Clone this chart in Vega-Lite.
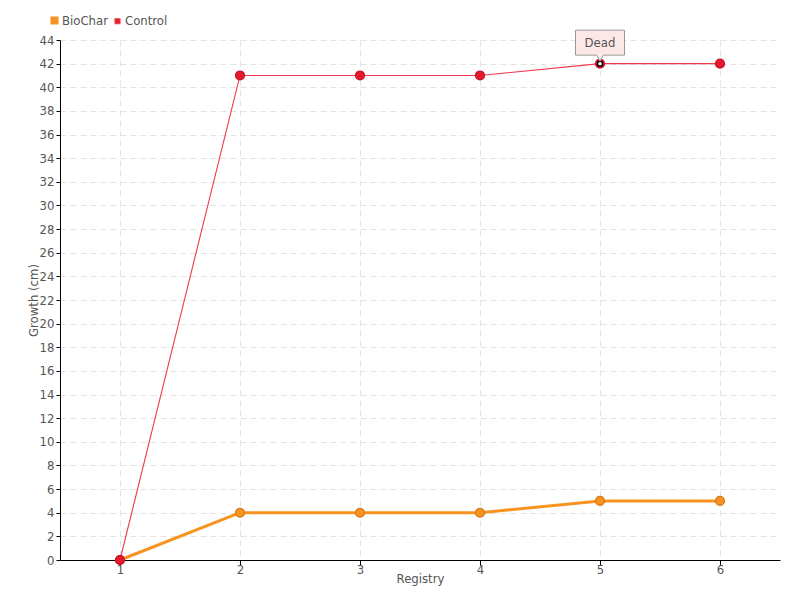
{
  "$schema": "https://vega.github.io/schema/vega-lite/v6.json",
  "width": 720,
  "height": 520,
  "autosize": "none",
  "padding": {"left": 60, "top": 40, "right": 20, "bottom": 40},
  "background": "white",
  "config": {
    "view": {"stroke": null},
    "font": "DejaVu Sans Condensed, sans-serif",
    "axis": {
      "labelFont": "DejaVu Sans Condensed, sans-serif",
      "titleFont": "DejaVu Sans Condensed, sans-serif",
      "labelColor": "#555",
      "titleColor": "#555",
      "labelFontSize": 13,
      "titleFontSize": 13,
      "titleFontWeight": "normal",
      "domainColor": "#000",
      "tickColor": "#000",
      "gridColor": "#e3e3e3",
      "gridDash": [6, 4]
    }
  },
  "data": {
    "values": [
      {"Registry": 1, "Growth": 0, "Series": "BioChar"},
      {"Registry": 2, "Growth": 4, "Series": "BioChar"},
      {"Registry": 3, "Growth": 4, "Series": "BioChar"},
      {"Registry": 4, "Growth": 4, "Series": "BioChar"},
      {"Registry": 5, "Growth": 5, "Series": "BioChar"},
      {"Registry": 6, "Growth": 5, "Series": "BioChar"},
      {"Registry": 1, "Growth": 0, "Series": "Control"},
      {"Registry": 2, "Growth": 41, "Series": "Control"},
      {"Registry": 3, "Growth": 41, "Series": "Control"},
      {"Registry": 4, "Growth": 41, "Series": "Control"},
      {"Registry": 5, "Growth": 42, "Series": "Control"},
      {"Registry": 6, "Growth": 42, "Series": "Control"}
    ]
  },
  "encoding": {
    "x": {
      "field": "Registry",
      "type": "ordinal",
      "scale": {"type": "point", "padding": 0.5},
      "axis": {"labelAngle": 0, "title": "Registry", "grid": true, "tickSize": 5, "labelPadding": -2, "titlePadding": -4}
    },
    "y": {
      "field": "Growth",
      "type": "quantitative",
      "scale": {"domain": [0, 44], "nice": false},
      "axis": {"values": [0,2,4,6,8,10,12,14,16,18,20,22,24,26,28,30,32,34,36,38,40,42,44], "title": "Growth (cm)", "tickSize": 4, "labelPadding": 2, "titlePadding": -1}
    }
  },
  "layer": [
    {
      "mark": {"type": "line"},
      "encoding": {
        "color": {
          "field": "Series",
          "type": "nominal",
          "scale": {"domain": ["BioChar", "Control"], "range": ["#f7931e", "#f0384a"]},
          "legend": {
            "orient": "none",
            "legendX": -12,
            "legendY": -26,
            "direction": "horizontal",
            "title": null,
            "symbolType": "square",
            "symbolSize": 25,
            "symbolStrokeWidth": 0,
            "labelFontSize": 13,
            "labelColor": "#555",
            "labelOffset": 1,
            "columnPadding": 3,
            "symbolOffset": 0
          }
        },
        "strokeWidth": {
          "field": "Series",
          "type": "nominal",
          "scale": {"domain": ["BioChar", "Control"], "range": [3, 1.1]},
          "legend": null
        }
      }
    },
    {
      "mark": {"type": "point", "filled": true, "size": 80, "strokeWidth": 1.2, "opacity": 1},
      "encoding": {
        "fill": {
          "field": "Series",
          "type": "nominal",
          "scale": {"domain": ["BioChar", "Control"], "range": ["#f7931e", "#e8192c"]},
          "legend": null
        },
        "stroke": {
          "field": "Series",
          "type": "nominal",
          "scale": {"domain": ["BioChar", "Control"], "range": ["#d9781a", "#c8102e"]},
          "legend": null
        }
      }
    },
    {
      "transform": [{"filter": "datum.Series == 'Control' && datum.Registry == 5"}],
      "mark": {"type": "point", "filled": true, "size": 25, "fill": "white", "stroke": "#000", "strokeWidth": 1.5, "opacity": 1}
    },
    {
      "transform": [{"filter": "datum.Series == 'Control' && datum.Registry == 5"}],
      "mark": {"type": "point", "shape": "M-1,-0.51L1,-0.51L1,0.51L0.14,0.51L0,0.76L-0.14,0.51L-1,0.51Z", "size": 2401, "filled": true, "fill": "#fde8e8", "stroke": "#999", "strokeWidth": 1, "opacity": 1, "yOffset": -21}
    },
    {
      "transform": [{"filter": "datum.Series == 'Control' && datum.Registry == 5"}, {"calculate": "'Dead'", "as": "label"}],
      "mark": {"type": "text", "fontSize": 13, "color": "#555", "yOffset": -21, "baseline": "middle"},
      "encoding": {"text": {"field": "label"}}
    }
  ]
}
